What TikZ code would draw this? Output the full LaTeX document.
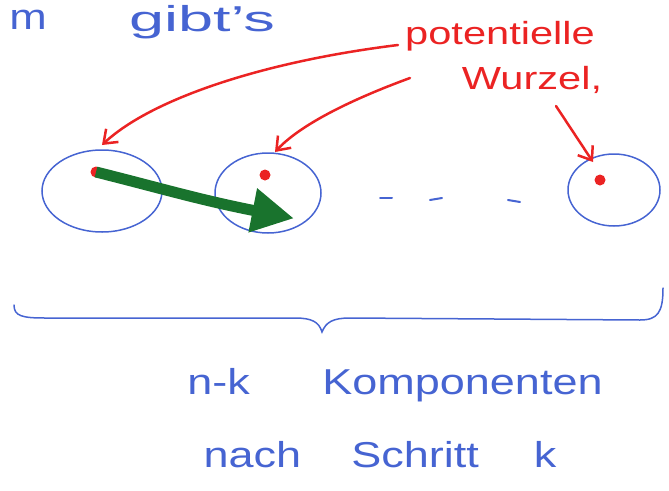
\documentclass[tikz,border=0pt]{standalone}
\usepackage{fontspec}
\setmainfont{Liberation Sans}
\usetikzlibrary{arrows.meta,shapes.geometric}
\definecolor{pen}{RGB}{70,100,210}
\definecolor{rpen}{RGB}{235,35,35}
\definecolor{gpen}{RGB}{25,115,45}
\tikzset{
  bluetext/.style={text=pen, font=\fontsize{36}{40}\selectfont, inner sep=0pt, xscale=1.25},
  redtext/.style={text=rpen, font=\fontsize{32}{36}\selectfont, inner sep=0pt, xscale=1.3},
  comp/.style={ellipse, draw=pen, line width=1.5pt, inner sep=0pt},
  root/.style={circle, fill=rpen, minimum size=11pt, inner sep=0pt},
  redarrow/.style={draw=rpen, line width=2.5pt, line cap=round, -{Straight Barb[length=12pt,width=18pt]}},
  greenarrow/.style={draw=gpen, line width=11pt, -{Triangle[length=42pt,width=42pt]}, shorten >=-2pt},
  dashmark/.style={draw=pen, line width=2pt, line cap=round},
}
\begin{document}
\begin{tikzpicture}[x=1pt,y=-1pt]
\useasboundingbox (0,0) rectangle (669,490);
% top text
\node[bluetext] (t0) at (28,20) {m};
\node[bluetext, xscale=1.4] (t1) at (202,22) {gibt's};
\node[redtext] (p1) at (500,36) {potentielle};
\node[redtext] (p2) at (532,80) {Wurzel,};
% components
\node[comp, minimum width=120pt, minimum height=82pt] (c1) at (102,191) {};
\node[comp, minimum width=106pt, minimum height=80pt] (c2) at (268,193) {};
\node[comp, minimum width=92pt, minimum height=72pt] (c3) at (614,190) {};
\node[root] (r1) at (96,172) {};
\node[root] (r2) at (265,175) {};
\node[root] (r3) at (600,180) {};
% dashes
\coordinate (d1a) at (380,198); \coordinate (d1b) at (392,198);
\coordinate (d2a) at (430,200); \coordinate (d2b) at (442,198);
\coordinate (d3a) at (508,200); \coordinate (d3b) at (520,202);
\draw[dashmark] (d1a) -- (d1b);
\draw[dashmark] (d2a) -- (d2b);
\draw[dashmark] (d3a) -- (d3b);
% red arrows
\coordinate (s1) at (398,45);
\coordinate (s2) at (410,78);
\coordinate (s3) at (556,106);
\coordinate (a1) at (102,145);
\coordinate (a2) at (275,152);
\coordinate (a3) at (593,162);
\draw[redarrow] (s1) .. controls (260,62) and (150,100) .. (a1);
\draw[redarrow] (s2) .. controls (350,100) and (300,125) .. (a2);
\draw[redarrow] (s3) -- (a3);
% green arrow
\coordinate (g) at (292,218);
\draw[greenarrow] (r1.center) .. controls (160,188) and (200,200) .. (g);
% brace
\coordinate (b1) at (14,305);
\coordinate (bm) at (322,332);
\coordinate (b2) at (663,288);
\draw[pen, line width=1.5pt, line cap=round]
  (b1) .. controls (14,316) and (22,318) .. (45,318)
  -- (295,318) .. controls (312,318) and (319,322) .. (bm)
  .. controls (326,322) and (333,318) .. (350,318)
  -- (640,320) .. controls (658,320) and (663,312) .. (b2);
% bottom text
\node[bluetext] (l1) at (395,385) {n-k\hspace{58pt}Komponenten};
\node[bluetext] (l2) at (380,455) {nach\hspace{40pt}Schritt\hspace{44pt}k};
\end{tikzpicture}
\end{document}
